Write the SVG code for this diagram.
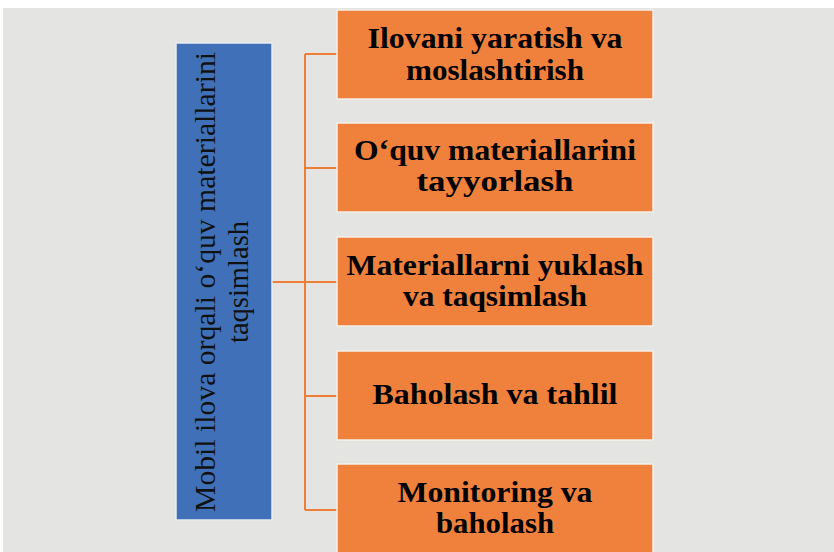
<svg xmlns="http://www.w3.org/2000/svg" width="834" height="552" viewBox="0 0 834 552">
<style>
.bg{fill:#e4e4e3}
.box{fill:#f0813d;stroke:#f3efe9;stroke-width:1.5}
.root{fill:#4071b8;stroke:#e9ecf0;stroke-width:1.5}
.lbl{font-family:"Liberation Serif","Times New Roman",serif;font-weight:bold;font-size:29px;fill:#000;text-anchor:middle}
.rlbl{font-family:"Liberation Serif","Times New Roman",serif;font-size:29px;fill:#111;text-anchor:middle}
.conn line{stroke:#ee7d36;stroke-width:2}
</style>
<rect x="0" y="0" width="834" height="552" fill="#ffffff"/>
<rect class="bg" x="3" y="8" width="831" height="544"/>
<g id="connectors" class="conn">
<line x1="272" y1="282" x2="305" y2="282"/>
<line x1="305" y1="54" x2="305" y2="510"/>
<line x1="305" y1="54" x2="337" y2="54"/>
<line x1="305" y1="168" x2="337" y2="168"/>
<line x1="305" y1="282" x2="337" y2="282"/>
<line x1="305" y1="396" x2="337" y2="396"/>
<line x1="305" y1="510" x2="337" y2="510"/>
</g>
<g id="root">
<rect class="root" x="176" y="43" width="96" height="477"/>
<g transform="translate(215,282) rotate(-90)">
<text class="rlbl" x="0" y="0" textLength="460" lengthAdjust="spacingAndGlyphs">Mobil ilova orqali o‘quv materiallarini</text>
<text class="rlbl" x="0" y="33" textLength="122" lengthAdjust="spacingAndGlyphs">taqsimlash</text>
</g>
</g>
<g id="n1">
<rect class="box" x="337" y="10" width="316" height="89"/>
<text class="lbl" x="495" y="48" textLength="255" lengthAdjust="spacingAndGlyphs">Ilovani yaratish va</text>
<text class="lbl" x="495" y="80" textLength="178" lengthAdjust="spacingAndGlyphs">moslashtirish</text>
</g>
<g id="n2">
<rect class="box" x="337" y="123" width="316" height="89"/>
<text class="lbl" x="495" y="160" textLength="282" lengthAdjust="spacingAndGlyphs">O‘quv materiallarini</text>
<text class="lbl" x="495" y="191" textLength="157" lengthAdjust="spacingAndGlyphs">tayyorlash</text>
</g>
<g id="n3">
<rect class="box" x="337" y="237" width="316" height="89"/>
<text class="lbl" x="495" y="275" textLength="297" lengthAdjust="spacingAndGlyphs">Materiallarni yuklash</text>
<text class="lbl" x="495" y="306" textLength="184" lengthAdjust="spacingAndGlyphs">va taqsimlash</text>
</g>
<g id="n4">
<rect class="box" x="337" y="351" width="316" height="89"/>
<text class="lbl" x="495" y="404" textLength="245" lengthAdjust="spacingAndGlyphs">Baholash va tahlil</text>
</g>
<g id="n5">
<rect class="box" x="337" y="464" width="316" height="95"/>
<text class="lbl" x="495" y="502" textLength="195" lengthAdjust="spacingAndGlyphs">Monitoring va</text>
<text class="lbl" x="495" y="533" textLength="118" lengthAdjust="spacingAndGlyphs">baholash</text>
</g>
</svg>
